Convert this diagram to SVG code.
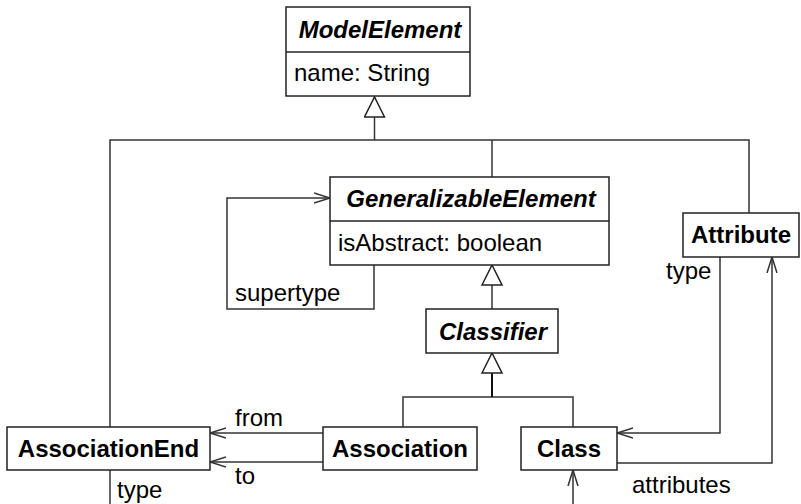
<svg xmlns="http://www.w3.org/2000/svg" width="801" height="504" viewBox="0 0 801 504">
  <style>
    .box { fill: #fff; stroke: #222; stroke-width: 1.5; }
    .line { fill: none; stroke: #333; stroke-width: 1.5; }
    .t { font-family: "Liberation Sans", Arial, sans-serif; font-size: 24px; fill: #000; }
    .b { font-weight: bold; }
    .bi { font-weight: bold; font-style: italic; }
    .lbl { font-family: "Liberation Sans", Arial, sans-serif; font-size: 24px; fill: #000; }
  </style>
  <defs>
    <marker id="open" viewBox="0 0 16 12" refX="16" refY="6" markerWidth="16" markerHeight="12" markerUnits="userSpaceOnUse" orient="auto">
      <path d="M0,1 L16,6 L0,11" fill="none" stroke="#333" stroke-width="1.5"/>
    </marker>
    <marker id="gen" viewBox="0 0 22 22" refX="21" refY="11" markerWidth="22" markerHeight="22" markerUnits="userSpaceOnUse" orient="auto">
      <path d="M1,1 L21,11 L1,21 Z" fill="#fff" stroke="#222" stroke-width="1.5"/>
    </marker>
  </defs>

  <!-- connectors -->
  <g id="connectors">
    <!-- generalization to ModelElement -->
    <path class="line" d="M110,427 V140 H749 V213"/>
    <path class="line" d="M492,177 V140"/>
    <path class="line" d="M374.5,140 V97" marker-end="url(#gen)"/>
    <!-- generalization to GeneralizableElement -->
    <path class="line" d="M492,309 V265" marker-end="url(#gen)"/>
    <!-- generalization to Classifier -->
    <path class="line" d="M403,427 V397 H573 V427"/>
    <path class="line" d="M492,397 V353" marker-end="url(#gen)" style="stroke:#111;stroke-width:2"/>
    <!-- supertype self association -->
    <path class="line" d="M374,265 V309 H227 V198 H330" marker-end="url(#open)"/>
    <!-- Association to AssociationEnd -->
    <path class="line" d="M323,433 H210" marker-end="url(#open)"/>
    <path class="line" d="M323,462 H210" marker-end="url(#open)"/>
    <!-- AssociationEnd type -->
    <path class="line" d="M110,470 V504"/>
    <!-- Attribute type -->
    <path class="line" d="M720,257 V433 H617" marker-end="url(#open)"/>
    <!-- Class attributes -->
    <path class="line" d="M617,463 H772 V257" marker-end="url(#open)"/>
    <!-- incoming to Class -->
    <path class="line" d="M573,504 V470" marker-end="url(#open)"/>
    <text class="lbl" x="235" y="301">supertype</text>
    <text class="lbl" x="235" y="426">from</text>
    <text class="lbl" x="235" y="484">to</text>
    <text class="lbl" x="117" y="498">type</text>
    <text class="lbl" x="666" y="279">type</text>
    <text class="lbl" x="632" y="493">attributes</text>
  </g>

  <g id="ModelElement">
    <rect class="box" x="286" y="7" width="184" height="89"/>
    <line class="box" x1="286" y1="52" x2="470" y2="52"/>
    <text class="t bi" x="380" y="38" text-anchor="middle">ModelElement</text>
    <text class="t" x="294" y="81">name: String</text>
  </g>

  <g id="GeneralizableElement">
    <rect class="box" x="330" y="177" width="279" height="88"/>
    <line class="box" x1="330" y1="221" x2="609" y2="221"/>
    <text class="t bi" x="471" y="207" text-anchor="middle">GeneralizableElement</text>
    <text class="t" x="338" y="251">isAbstract: boolean</text>
  </g>

  <g id="Attribute">
    <rect class="box" x="683" y="213" width="116" height="44"/>
    <text class="t b" x="741" y="243" text-anchor="middle">Attribute</text>
  </g>

  <g id="Classifier">
    <rect class="box" x="426" y="309" width="132" height="44"/>
    <text class="t bi" x="493" y="340" text-anchor="middle">Classifier</text>
  </g>

  <g id="AssociationEnd">
    <rect class="box" x="7" y="427" width="203" height="43"/>
    <text class="t b" x="108.5" y="457" text-anchor="middle">AssociationEnd</text>
  </g>

  <g id="Association">
    <rect class="box" x="323" y="427" width="154" height="43"/>
    <text class="t b" x="400" y="457" text-anchor="middle">Association</text>
  </g>

  <g id="Class">
    <rect class="box" x="521" y="427" width="96" height="43"/>
    <text class="t b" x="569" y="457" text-anchor="middle">Class</text>
  </g>
</svg>
